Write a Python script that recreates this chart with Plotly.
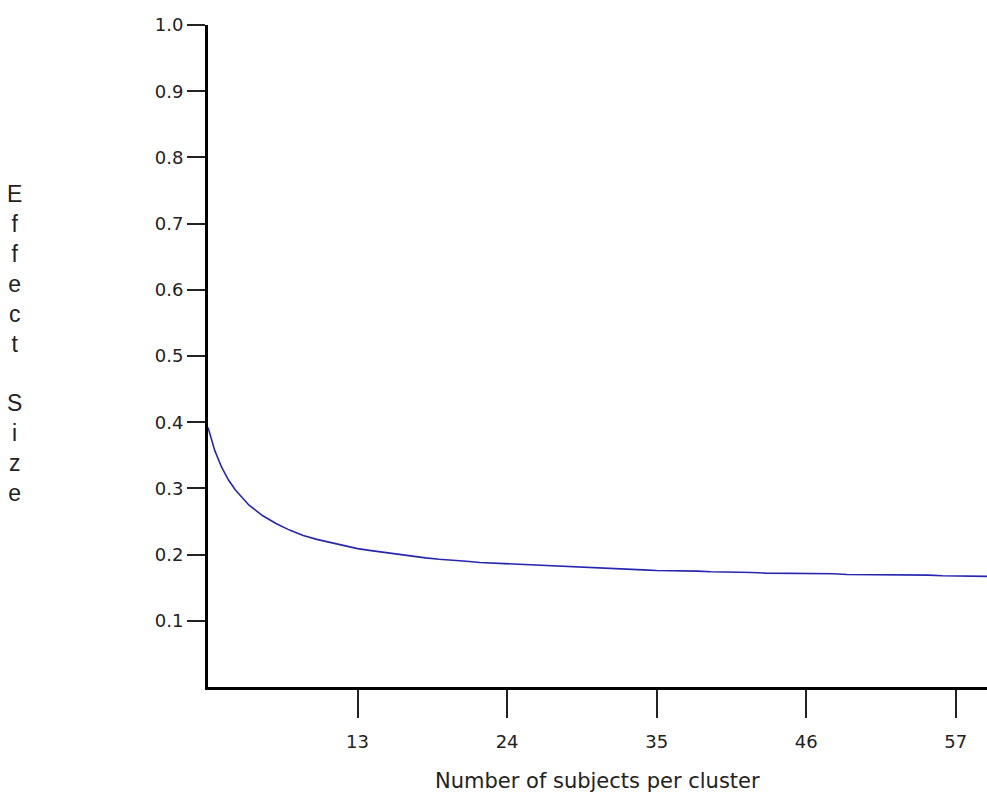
import plotly.graph_objects as go

# Number of subjects per cluster (x) and effect size (y)
subjects = [2, 2.5, 3, 3.5, 4, 5, 6, 7, 8, 9, 10, 11, 12, 13, 14, 15, 16, 17, 18, 19, 20,
            21, 22, 23, 24, 25, 26, 27, 28, 29, 30, 31, 32, 33, 34, 35, 36, 37, 38, 39, 40,
            41, 42, 43, 44, 45, 46, 47, 48, 49, 50, 51, 52, 53, 54, 55, 56, 57, 58, 59, 60]
effect_size = [0.392, 0.357, 0.332, 0.313, 0.298, 0.275, 0.259, 0.247, 0.237, 0.229, 0.223,
               0.218, 0.213, 0.209, 0.206, 0.203, 0.200, 0.197, 0.195, 0.193, 0.192,
               0.190, 0.188, 0.187, 0.186, 0.185, 0.184, 0.183, 0.182, 0.181, 0.180,
               0.179, 0.178, 0.178, 0.177, 0.176, 0.176, 0.175, 0.175, 0.174, 0.174,
               0.173, 0.173, 0.172, 0.172, 0.172, 0.171, 0.171, 0.171, 0.170, 0.170,
               0.170, 0.169, 0.169, 0.169, 0.169, 0.168, 0.168, 0.168, 0.168, 0.167]

x_ticks = [13, 24, 35, 46, 57]
y_ticks = [0.1, 0.2, 0.3, 0.4, 0.5, 0.6, 0.7, 0.8, 0.9, 1.0]
y_tick_text = ["0.1", "0.2", "0.3", "0.4", "0.5", "0.6", "0.7", "0.8", "0.9", "1.0"]

x_title = "Number of subjects per cluster"
y_title = "Effect Size"

fig = go.Figure()
fig.add_trace(go.Scatter(
    x=subjects, y=effect_size, mode="lines",
    line=dict(color="#2626b0", width=1.6),
    showlegend=False, hoverinfo="skip",
))

y_title_html = "<br>".join(ch if ch != " " else " " for ch in y_title)

fig.update_layout(
    width=987, height=795,
    margin=dict(l=208, r=0, t=25, b=108),
    paper_bgcolor="white", plot_bgcolor="white",
    font=dict(family="Arial, Liberation Sans, sans-serif", color="#222222"),
    xaxis=dict(
        range=[2, 59.3], tickmode="array", tickvals=x_ticks,
        showgrid=False, zeroline=False,
        showline=True, linecolor="black", linewidth=3,
        ticks="outside", ticklen=28, tickwidth=2, tickcolor="#222222",
        tickfont=dict(size=18, family="DejaVu Sans, Arial, sans-serif", color="#222222"),
        ticklabelstandoff=8,
    ),
    yaxis=dict(
        range=[0, 1.0], tickmode="array", tickvals=y_ticks, ticktext=y_tick_text,
        showgrid=False, zeroline=False,
        showline=True, linecolor="black", linewidth=3,
        ticks="outside", ticklen=18, tickwidth=2, tickcolor="#222222",
        tickfont=dict(size=18, family="DejaVu Sans, Arial, sans-serif", color="#222222"),
    ),
    annotations=[
        dict(text=x_title, xref="paper", yref="paper", x=0.4994, y=-0.142,
             xanchor="center", yanchor="middle", showarrow=False,
             font=dict(size=21, family="DejaVu Sans, Arial, sans-serif", color="#222222")),
        dict(text=y_title_html, xref="paper", yref="paper", x=-0.2478, y=0.5196,
             xanchor="center", yanchor="middle", showarrow=False, align="center",
             font=dict(size=23, family="Arial, Liberation Sans, sans-serif", color="#222222")),
    ],
)

fig.write_html(
    "out.html",
    config={"displayModeBar": False},
    post_script="document.body.style.margin='0';document.body.style.overflow='hidden';",
)
